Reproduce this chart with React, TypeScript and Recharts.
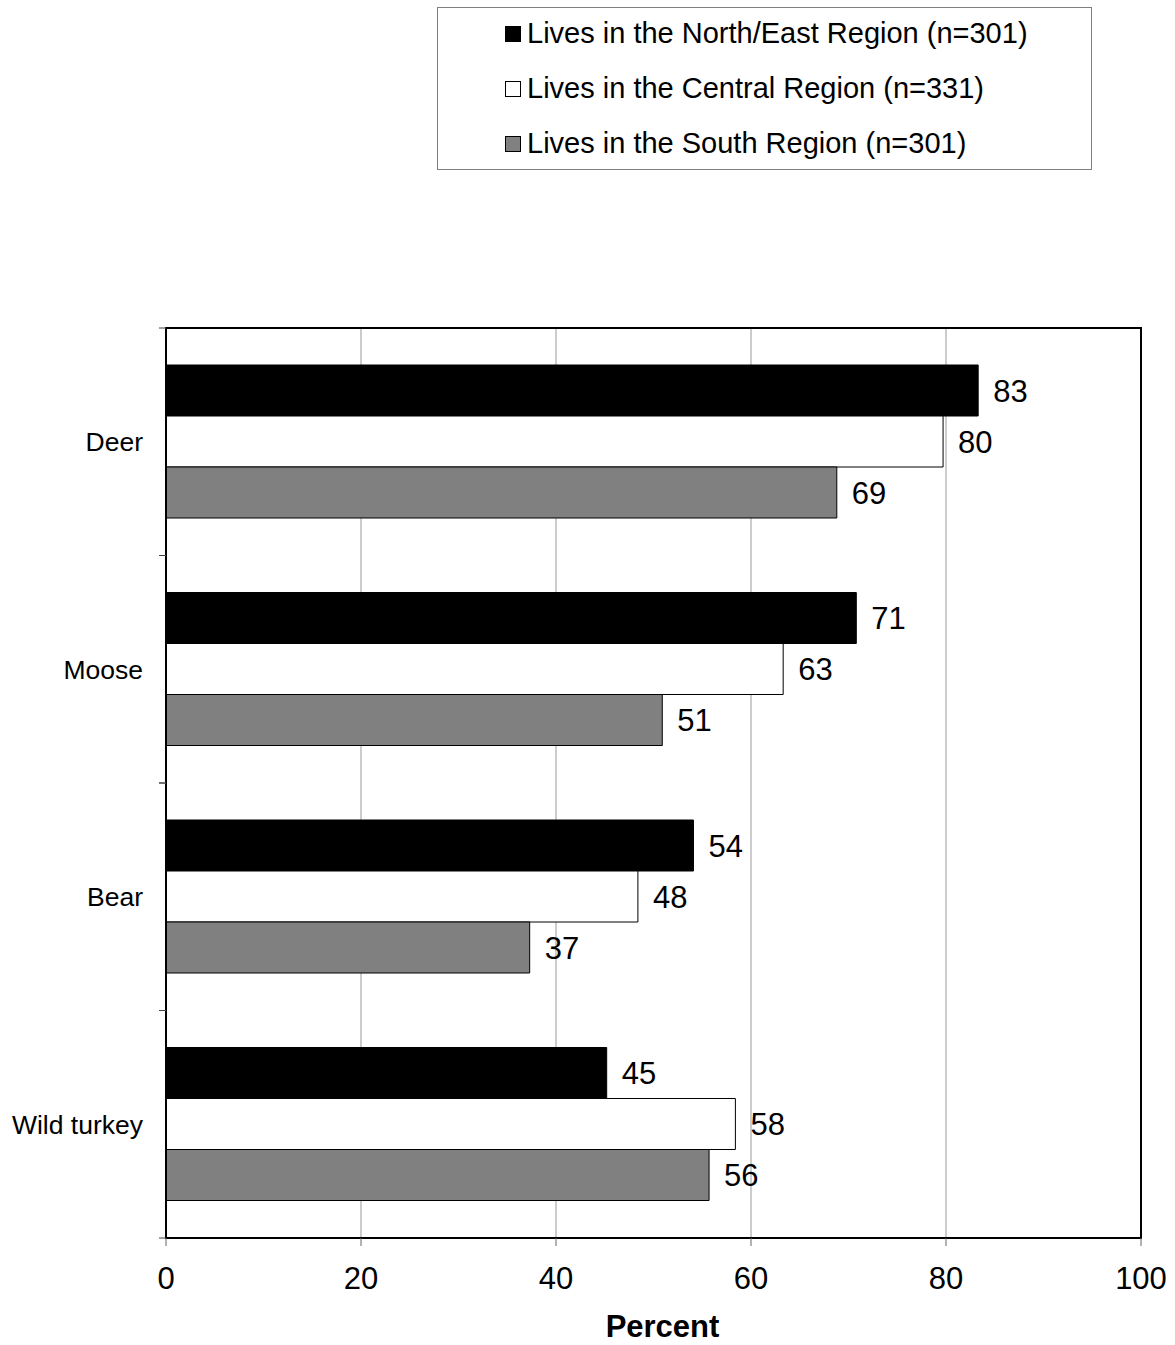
import React from "react";
import { Bar, BarChart, CartesianGrid, LabelList, ReferenceArea, XAxis, YAxis } from "recharts";

const animals = ["Deer", "Moose", "Bear", "Wild turkey"];
const northEast = [83.3, 70.8, 54.1, 45.2];
const central = [79.7, 63.3, 48.4, 58.4];
const south = [68.8, 50.9, 37.3, 55.7];
const xTicks = [0, 20, 40, 60, 80, 100];

const series = [
  { key: "northEast", label: "Lives in the North/East Region (n=301)", fill: "#000000" },
  { key: "central", label: "Lives in the Central Region (n=331)", fill: "#ffffff" },
  { key: "south", label: "Lives in the South Region (n=301)", fill: "#808080" },
];

const data = animals.map((name, i) => ({
  name,
  northEast: northEast[i],
  central: central[i],
  south: south[i],
}));

const FONT = "'Liberation Sans', Arial, Helvetica, sans-serif";

function CategoryTick(props: any) {
  const { y, payload } = props;
  const half = payload && payload.offset ? payload.offset : 113.75;
  return (
    <g>
      <line x1={159} x2={166} y1={y - half} y2={y - half} stroke="#444" />
      <line x1={159} x2={166} y1={y + half} y2={y + half} stroke="#444" />
      <text x={143} y={y} dy="0.35em" textAnchor="end" fontSize={26.5} fill="#000">
        {payload.value}
      </text>
    </g>
  );
}

function LegendBox() {
  return (
    <div
      style={{
        position: "absolute",
        left: 437,
        top: 7,
        width: 655,
        height: 163,
        boxSizing: "border-box",
        border: "1px solid #808080",
        background: "#fff",
      }}
    >
      <div style={{ position: "relative", top: -2 }}>
        {series.map((s) => (
          <div
            key={s.key}
            style={{ display: "flex", alignItems: "center", height: 55, paddingLeft: 67 }}
          >
            <span
              style={{
                display: "inline-block",
                width: 16,
                height: 16,
                boxSizing: "border-box",
                background: s.fill,
                border: "1px solid #000",
                marginRight: 6,
              }}
            />
            <span style={{ fontSize: 29, color: "#000", whiteSpace: "nowrap" }}>{s.label}</span>
          </div>
        ))}
      </div>
    </div>
  );
}

export default function App() {
  return (
    <div
      style={{
        position: "absolute",
        left: 0,
        top: 0,
        width: 1175,
        height: 1345,
        background: "#fff",
        fontFamily: FONT,
      }}
    >
      <BarChart
        layout="vertical"
        width={1175}
        height={1345}
        data={data}
        margin={{ top: 328, right: 34, bottom: 0, left: 16 }}
        barGap={0}
        barSize={51}
      >
        <CartesianGrid horizontal={false} stroke="#999999" />
        <XAxis
          type="number"
          domain={[0, 100]}
          ticks={xTicks}
          height={107}
          tickSize={8}
          tickMargin={21}
          interval={0}
          axisLine={{ stroke: "#000", strokeWidth: 2 }}
          tickLine={{ stroke: "#666" }}
          tick={{ fontSize: 31, fill: "#000" }}
          label={{
            value: "Percent",
            position: "insideBottom",
            offset: 8,
            dx: 9,
            fontSize: 31,
            fontWeight: "bold",
            fill: "#000",
          }}
        />
        <YAxis
          type="category"
          dataKey="name"
          width={150}
          interval={0}
          tickLine={false}
          axisLine={{ stroke: "#000", strokeWidth: 2 }}
          tick={<CategoryTick />}
        />
        <ReferenceArea
          x1={0}
          x2={100}
          fill="none"
          fillOpacity={0}
          stroke="#000"
          strokeWidth={2}
          ifOverflow="visible"
        />
        {series.map((s) => (
          <Bar
            key={s.key}
            dataKey={s.key}
            fill={s.fill}
            stroke="#000"
            strokeWidth={1}
            isAnimationActive={false}
          >
            <LabelList
              dataKey={s.key}
              position="right"
              offset={15}
              fontSize={31}
              fill="#000"
              formatter={(v: any) => Math.round(Number(v))}
            />
          </Bar>
        ))}
      </BarChart>
      <LegendBox />
    </div>
  );
}
